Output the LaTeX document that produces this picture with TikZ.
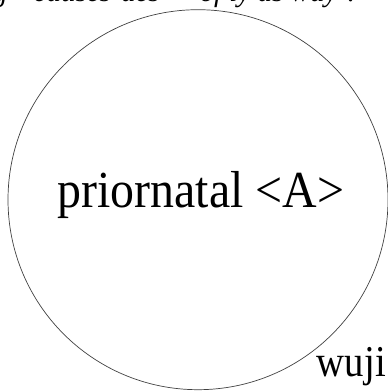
\documentclass[tikz,border=0pt]{standalone}
\usepackage{fontspec}
\setmainfont{Liberation Serif}
\usepackage{tikz}

\tikzset{
  bigtext/.style = {font=\fontsize{52}{60}\selectfont, inner sep=0pt},
  smalltext/.style = {font=\fontsize{44}{50}\selectfont, inner sep=0pt},
  toptext/.style = {font=\itshape\fontsize{29}{34}\selectfont, inner sep=0pt}
}

\begin{document}
\begin{tikzpicture}[x=1pt, y=1pt]

\useasboundingbox (0,0) rectangle (388,391);
\clip (0,0) rectangle (388,391);

\coordinate (o) at (198,191.3);
\draw[line width = 0.7pt, black!75] (o) circle (190);

\node[bigtext, anchor=base, xscale=0.92] (name) at (201,183.3) {priornatal <A>};
\node[smalltext, anchor=base east, xscale=0.88] (wuji) at (386,14) {wuji};
\node[toptext, anchor=base west] (top) at (-7,389) {g\hspace{26pt}causes\hspace{10pt}des\hspace{40pt}of ly as way ?};

\end{tikzpicture}
\end{document}
